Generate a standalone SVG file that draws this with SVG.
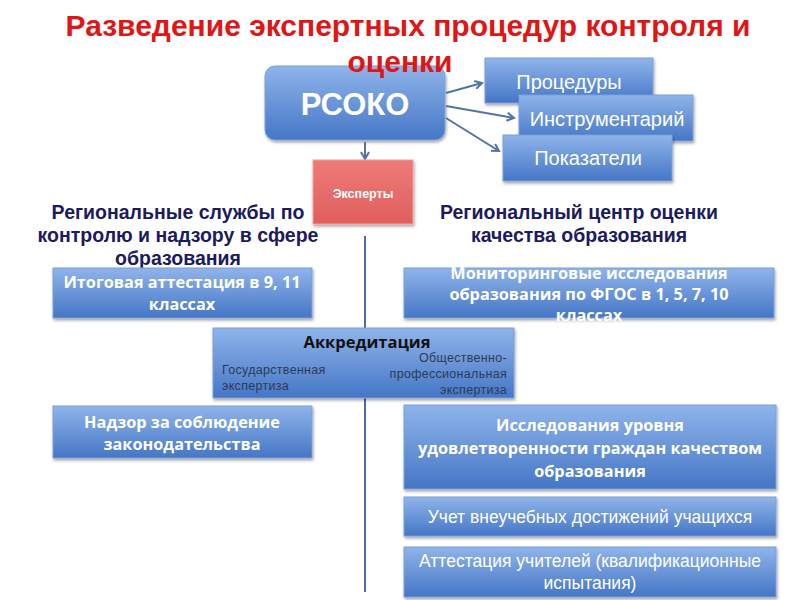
<svg xmlns="http://www.w3.org/2000/svg" width="800" height="600" viewBox="0 0 800 600">
<defs>
<linearGradient id="blue" x1="0" y1="0" x2="0" y2="1">
<stop offset="0" stop-color="#8fb4ea"/>
<stop offset="1" stop-color="#4576c6"/>
</linearGradient>
<linearGradient id="red" x1="0" y1="0" x2="0" y2="1">
<stop offset="0" stop-color="#ee7a78"/>
<stop offset="1" stop-color="#e05f5d"/>
</linearGradient>
<filter id="sh" x="-10%" y="-10%" width="130%" height="140%">
<feDropShadow dx="1" dy="2" stdDeviation="1.5" flood-color="#000" flood-opacity="0.35"/>
</filter>
<marker id="ah" markerWidth="10" markerHeight="10" refX="8" refY="5" orient="auto" markerUnits="userSpaceOnUse">
<path d="M1,1 L8,5 L1,9" fill="none" stroke="#4f74a8" stroke-width="2"/>
</marker>
</defs>
<style>
.box{fill:url(#blue);stroke:#7aa0d8;stroke-width:1;filter:url(#sh)}
.t{font-family:"Liberation Sans","DejaVu Sans",sans-serif;fill:#fff;text-anchor:middle}
.o{font-family:"Open Sans","Liberation Sans",sans-serif;font-weight:bold;fill:#fff;text-anchor:middle;font-size:16.3px}
.b{font-weight:bold}
.h{font-family:"Liberation Sans","DejaVu Sans",sans-serif;font-weight:bold;fill:#1b1b5e;text-anchor:middle;font-size:19.5px}
.s{font-family:"Liberation Sans","DejaVu Sans",sans-serif;fill:#2d3a55;font-size:12.5px;letter-spacing:0.3px}
.c{stroke:#4f74a8;stroke-width:2;fill:none}
.ti{font-family:"Liberation Sans","DejaVu Sans",sans-serif;font-weight:bold;font-size:30px;fill:#e01515;text-anchor:middle}
</style>
<rect width="800" height="600" fill="#fff"/>
<g id="title">
<text class="ti" x="408" y="36">Разведение экспертных процедур контроля и</text>
</g>
<g id="rsoko">
<rect class="box" x="265" y="66" width="180" height="74" rx="10"/>
<text class="t b" x="355" y="115" font-size="31">РСОКО</text>
</g>
<g id="title2">
<text class="ti" x="400" y="72">оценки</text>
</g>
<g id="procedury">
<rect class="box" x="485" y="58" width="168" height="45"/>
<text class="t" x="569" y="89" font-size="20">Процедуры</text>
</g>
<g id="instr">
<rect class="box" x="519" y="95" width="174" height="46"/>
<text class="t" x="607" y="126" font-size="20">Инструментарий</text>
</g>
<g id="pokaz">
<rect class="box" x="503" y="135" width="169" height="46"/>
<text class="t" x="588" y="165" font-size="20">Показатели</text>
</g>
<g id="connectors">
<line class="c" x1="446" y1="93" x2="482" y2="83" marker-end="url(#ah)"/>
<line class="c" x1="446" y1="106" x2="514" y2="118" marker-end="url(#ah)"/>
<line class="c" x1="446" y1="118" x2="499" y2="151" marker-end="url(#ah)"/>
<line class="c" x1="365" y1="142" x2="365" y2="159" marker-end="url(#ah)"/>
<line x1="365" y1="236" x2="365" y2="592" stroke="#4f6b9a" stroke-width="2"/>
</g>
<g id="experty">
<rect x="313" y="160" width="100" height="64" fill="url(#red)" stroke="#f0a0a0" filter="url(#sh)"/>
<text class="t b" x="363" y="198" font-size="12.5">Эксперты</text>
</g>
<g id="left-header">
<text class="h" x="178" y="219">Региональные службы по</text>
<text class="h" x="178" y="242">контролю и надзору в сфере</text>
<text class="h" x="178" y="265">образования</text>
</g>
<g id="right-header">
<text class="h" x="579" y="219">Региональный центр оценки</text>
<text class="h" x="579" y="242">качества образования</text>
</g>
<g id="itog">
<rect class="box" x="53" y="268" width="259" height="50"/>
<text class="o" x="182" y="288">Итоговая аттестация в 9, 11</text>
<text class="o" x="182" y="310">классах</text>
</g>
<g id="monitor">
<rect class="box" x="404" y="268" width="370" height="50"/>
<text class="o" x="589" y="279">Мониторинговые исследования</text>
<text class="o" x="589" y="300">образования по ФГОС в 1, 5, 7, 10</text>
<text class="o" x="589" y="321">классах</text>
</g>
<g id="akkr">
<rect class="box" x="213" y="328" width="301" height="70"/>
<text x="367" y="348" font-family="Open Sans,Liberation Sans,sans-serif" font-weight="bold" font-size="16.5" fill="#111" text-anchor="middle">Аккредитация</text>
<text class="s" x="222" y="374">Государственная</text>
<text class="s" x="222" y="390">экспертиза</text>
<text class="s" x="507" y="362" text-anchor="end">Общественно-</text>
<text class="s" x="507" y="378" text-anchor="end">профессиональная</text>
<text class="s" x="507" y="394" text-anchor="end">экспертиза</text>
</g>
<g id="nadzor">
<rect class="box" x="53" y="406" width="259" height="52"/>
<text class="o" x="182" y="428">Надзор за соблюдение</text>
<text class="o" x="182" y="450">законодательства</text>
</g>
<g id="issl">
<rect class="box" x="404" y="405" width="372" height="84"/>
<text class="o" x="590" y="431">Исследования уровня</text>
<text class="o" x="590" y="454">удовлетворенности граждан качеством</text>
<text class="o" x="590" y="477">образования</text>
</g>
<g id="uchet">
<rect class="box" x="404" y="497" width="372" height="39"/>
<text class="t" x="590" y="523" font-size="17.5">Учет внеучебных достижений учащихся</text>
</g>
<g id="attest">
<rect class="box" x="404" y="547" width="372" height="50"/>
<text class="t" x="590" y="567" font-size="17.5">Аттестация учителей (квалификационные</text>
<text class="t" x="590" y="589" font-size="17.5">испытания)</text>
</g>
</svg>
